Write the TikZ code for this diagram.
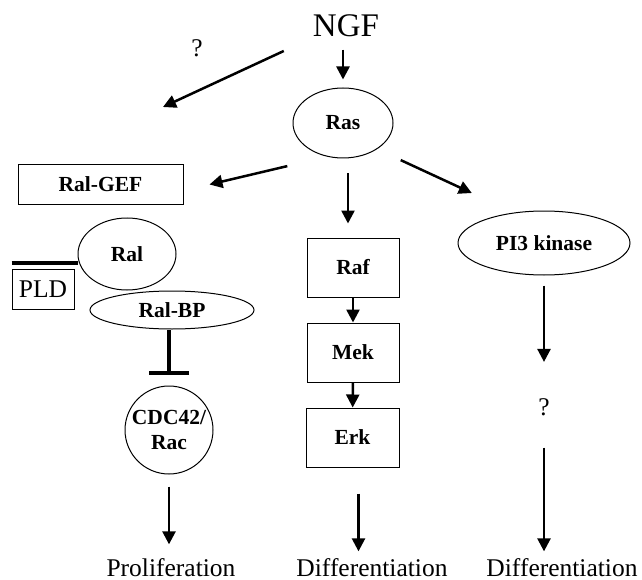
\documentclass[tikz,border=0pt]{standalone}
\usepackage{fontspec}
\setmainfont{Liberation Serif}
\usetikzlibrary{arrows.meta,shapes.geometric}
\newcommand{\labfont}{\fontsize{21.5pt}{25.8pt}\selectfont\bfseries}
\newcommand{\txtfont}{\fontsize{25.5pt}{30pt}\selectfont}
\tikzstyle{box}=[rectangle,draw=black,line width=1pt,inner sep=0pt,font=\labfont]
\tikzstyle{oval}=[ellipse,draw=black,line width=1pt,inner sep=0pt,font=\labfont]
\tikzstyle{plain}=[inner sep=0pt,font=\txtfont,anchor=base]
\tikzstyle{act}=[->,line width=2.5pt]
\tikzstyle{inhib}=[-{Bar[width=40pt]},line width=3.5pt]

\begin{document}
\begin{tikzpicture}[x=1pt,y=1pt,>={Triangle[length=13pt,width=13pt]}]
    \useasboundingbox (0,0) rectangle (642,-580);
    % receptor and Ras
    \node [plain,font=\fontsize{33pt}{40pt}\selectfont] (NGF) at (346,-37) {NGF};
    \node [plain] (q1) at (197,-56.5) {?};
    \coordinate (qend) at (163,-107);
    \node [oval,minimum width=100pt,minimum height=70pt] (Ras) at (343,-123) {Ras};

    % left branch
    \node [box,minimum width=165pt,minimum height=39pt] (RalGEF) at (100.5,-184.5) {Ral-GEF};
    \node [oval,minimum width=98pt,minimum height=72pt] (Ral) at (127,-254) {Ral};
    \node [box,font=\txtfont,line width=0.8pt,minimum width=62pt,minimum height=40pt] (PLD) at (43,-289) {PLD};
    \node [oval,minimum width=164pt,minimum height=38pt] (RalBP) at (172,-310) {Ral-BP};
    \node [oval,circle,align=center,minimum size=88pt] (CDC) at (169,-430) {CDC42/\\Rac};
    \node [plain] (prolif) at (171,-576) {Proliferation};

    % middle branch
    \node [box,minimum width=92pt,minimum height=59pt] (Raf) at (353,-267.5) {Raf};
    \node [box,minimum width=92pt,minimum height=59pt] (Mek) at (353,-352.5) {Mek};
    \node [box,minimum width=93pt,minimum height=59pt] (Erk) at (352.5,-437.5) {Erk};
    \node [plain] (diff2) at (372,-576) {Differentiation};

    % right branch
    \node [oval,minimum width=172pt,minimum height=64pt] (PI3) at (544,-243) {PI3 kinase};
    \node [plain] (q2) at (544,-415) {?};
    \node [plain] (diff3) at (562,-576) {Differentiation};

    % connectors
    \draw [act,shorten <=32pt] (NGF.south west) -- (qend);
    \draw [act,shorten <=12pt,shorten >=8pt] (Ras.north |- NGF.south) -- (Ras.north);
    \draw [act] ([shift={(-20pt,-18pt)}]Ras.south west) -- ([xshift=26pt]RalGEF.east);
    \draw [act,shorten <=15pt,shorten >=14pt] ([xshift=5pt]Ras.south) -- ([xshift=-5pt]Raf.north);
    \draw [act] ([shift={(22pt,-12pt)}]Ras.south east) -- ([shift={(-11pt,27pt)}]PI3.north west);

    \coordinate (pldtop) at ([yshift=6pt]PLD.north west);
    \draw [line width=4pt] (pldtop) -- (pldtop -| Ral.west);
    \draw [inhib,shorten >=11pt] ([xshift=-3pt]RalBP.south) -- (CDC.north);
    \draw [act,shorten <=12pt,shorten >=13.5pt] (CDC.south) -- (CDC.south |- prolif.north);

    \draw [act] (Raf) -- (Mek);
    \draw [act] (Mek) -- (Erk);
    \coordinate (erkout) at ([xshift=6pt]Erk.south);
    \draw [act,shorten <=26pt,shorten >=6.5pt] (erkout) -- (erkout |- diff2.north);

    \draw [act,shorten <=10pt,shorten >=36pt] (PI3.south) -- (q2.north);
    \draw [act,shorten <=32pt,shorten >=6.5pt] (q2.south) -- (q2.south |- diff3.north);
\end{tikzpicture}
\end{document}
